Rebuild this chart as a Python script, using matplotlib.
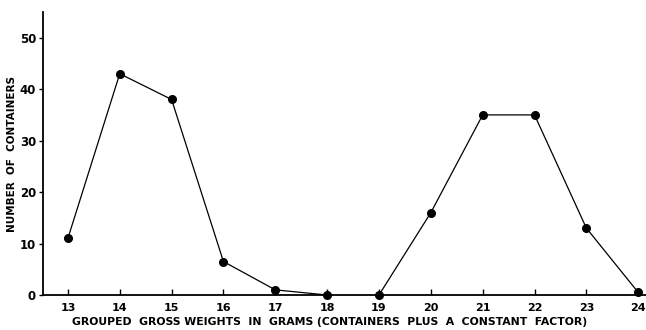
import matplotlib
matplotlib.use("Agg")
from matplotlib import pyplot as plt

# grouped gross weights (grams) and counts, two separate groups
weights_a = [13, 14, 15, 16, 17, 18]
counts_a = [11, 43, 38, 6.5, 1, 0]
weights_b = [19, 20, 21, 22, 23, 24]
counts_b = [0, 16, 35, 35, 13, 0.5]
xticks = list(range(13, 25))
yticks = [0, 10, 20, 30, 40, 50]

fig = plt.figure(figsize=(6.46, 3.30), dpi=100)
ax = fig.add_axes([43/646, 35/330, 603/646, 283/330])

for xs, ys in [(weights_a, counts_a), (weights_b, counts_b)]:
    ax.plot(xs, ys, color='black', linewidth=0.9, marker='o', markersize=5.5,
            clip_on=False, zorder=3)

ax.set_xlim(12.52, 24.15)
ax.set_ylim(0, 55)
ax.spines['top'].set_visible(False)
ax.spines['right'].set_visible(False)
ax.spines['left'].set_linewidth(1.3)
ax.spines['bottom'].set_linewidth(1.3)

ax.set_xticks(xticks)
ax.set_yticks(yticks)
ax.tick_params(axis='x', direction='in', length=4, width=1, labelsize=8, pad=6)
ax.tick_params(axis='y', direction='out', length=3, width=1, labelsize=8.5, pad=2)
for lab in ax.get_xticklabels() + ax.get_yticklabels():
    lab.set_fontweight('bold')

# x label placed in figure coords so it sits right at the bottom edge
fig.text(0.51, 3/330, 'GROUPED  GROSS WEIGHTS  IN  GRAMS (CONTAINERS  PLUS  A  CONSTANT  FACTOR)',
         fontsize=7.8, fontweight='bold', ha='center', va='bottom')
ax.set_ylabel('NUMBER  OF  CONTAINERS', fontsize=7.5, fontweight='bold', labelpad=2)

fig.savefig('out.png', dpi=100)
